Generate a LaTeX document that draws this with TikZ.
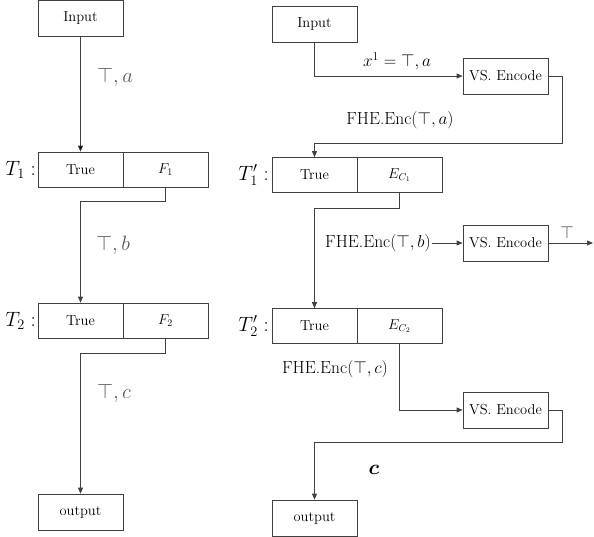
\documentclass[tikz,border=0pt]{standalone}
\usepackage{amsmath}
\usepackage{tikz}
\usetikzlibrary{shapes,arrows.meta}

\begin{document}
\begin{tikzpicture}[x=1pt,y=-1pt,
  box/.style={shape=rectangle,draw=black!75,line width=0.7pt,minimum width=85pt,minimum height=36pt,inner sep=0pt,font=\fontsize{14.5}{16}\selectfont},
  cell/.style={box,minimum height=35pt},
  lab/.style={inner sep=1pt,font=\fontsize{17.5}{20}\selectfont},
  biglab/.style={inner sep=1pt,font=\fontsize{21}{24}\selectfont},
  flow/.style={-{Triangle[length=6pt,width=5pt]},draw=black!75,line width=0.7pt}]
\useasboundingbox (0,0) rectangle (594,536);

% left column
\node[box] (0) at (80.5,18) {Input};
\node[cell] (1) at (80.5,169.5) {True};
\node[cell] (2) at (165.5,169.5) {$F_1$};
\node[cell] (3) at (80.5,320.5) {True};
\node[cell] (4) at (165.5,320.5) {$F_2$};
\node[box] (5) at (80.5,512) {output};
\node[biglab,anchor=east] (t1) at (37,169.5) {$T_1:$};
\node[biglab,anchor=east] (t2) at (37,320.5) {$T_2:$};

\path [flow] (0) edge (1);
\draw [flow] (2.south) -- ++(0,14) -| (3.north);
\draw [flow] (4.south) -- ++(0,15) -| (5.north);
\node[biglab,text=black!65] (la) at (115,77) {$\top,a$};
\node[biglab,text=black!65] (lb) at (113,245) {$\top,b$};
\node[biglab,text=black!65] (lc) at (114,393) {$\top,c$};

% right column
\node[box] (6) at (314.5,24) {Input};
\node[box] (7) at (505.5,76) {VS. Encode};
\node[cell] (8) at (314.5,175) {True};
\node[cell] (9) at (399.5,175) {$E_{C_1}$};
\node[box] (10) at (505.5,243) {VS. Encode};
\node[cell] (11) at (314.5,326) {True};
\node[cell] (12) at (399.5,326) {$E_{C_2}$};
\node[box] (13) at (505.5,410) {VS. Encode};
\node[box] (14) at (314.5,518) {output};
\node[biglab,anchor=east] (t1p) at (270,175) {$T_1':$};
\node[biglab,anchor=east] (t2p) at (270,326) {$T_2':$};
\coordinate (out) at (593,243);

\draw [flow] (6.south) |- (7.west);
\draw [flow] (7.east) -| ++(14,67) -| (8.north);
\draw [flow] (9.south) -- ++(0,15) -| (11.north);
\node[lab] (15) at (378,243) {FHE.Enc$(\top,b)$};
\draw [flow] (15.east) -- (10.west);
\draw [flow] (10.east) -- (out);
\node[lab,text=black!75] (lt) at (567,232) {$\top$};
\draw [flow] (12.south) |- (13.west);
\draw [flow] (13.east) -| ++(14,32) -| (14.north);

\node[lab] (lx) at (397,61) {$x^1=\top,a$};
\node[lab] (le1) at (400,120) {FHE.Enc$(\top,a)$};
\node[lab] (le3) at (335,369) {FHE.Enc$(\top,c)$};
\node[biglab] (lcc) at (374,470) {$\boldsymbol{c}$};
\end{tikzpicture}
\end{document}
